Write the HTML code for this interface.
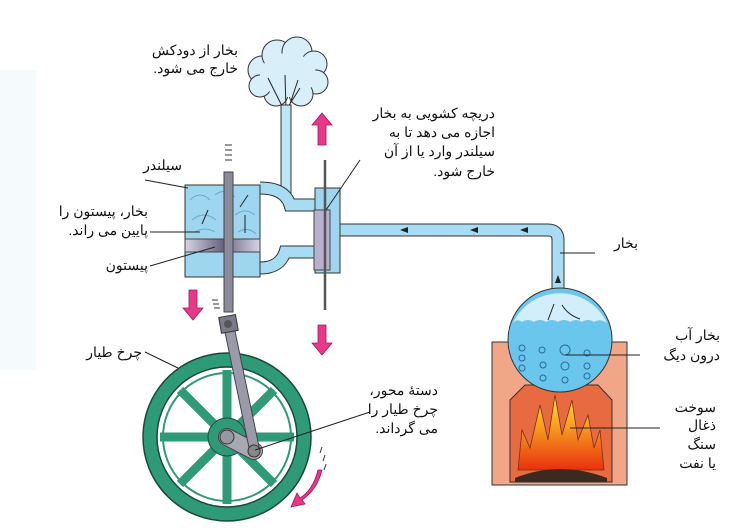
<!DOCTYPE html>
<html><head><meta charset="utf-8"><style>
html,body{margin:0;padding:0;background:#fff;}
svg{display:block}
text{font-family:"Liberation Sans","Noto Sans CJK SC",sans-serif;font-size:14px;fill:#111;}
</style></head><body>
<svg width="731" height="530" viewBox="0 0 731 530" xmlns="http://www.w3.org/2000/svg">
<defs>
<linearGradient id="pist" x1="0" x2="1"><stop offset="0" stop-color="#d8d4e6"/><stop offset="0.5" stop-color="#6a6480"/><stop offset="1" stop-color="#d8d4e6"/></linearGradient>
<linearGradient id="fire" x1="0" y1="1" x2="0" y2="0"><stop offset="0" stop-color="#e83010"/><stop offset="0.6" stop-color="#f8a020"/><stop offset="1" stop-color="#fbe040"/></linearGradient>
</defs>
<rect x="0" y="70" width="36" height="300" fill="#f5fafd"/>

<g fill="#d8eef8" stroke="#333" stroke-width="1">
<circle cx="262" cy="70" r="14"/><circle cx="277" cy="55" r="15"/><circle cx="297" cy="52" r="15"/><circle cx="314" cy="64" r="13"/><circle cx="316" cy="82" r="12"/><circle cx="301" cy="94" r="12"/><circle cx="276" cy="94" r="12"/><circle cx="260" cy="86" r="11"/>
</g>
<ellipse cx="288" cy="75" rx="28" ry="22" fill="#d8eef8"/>
<path d="M284 110 L268 78 M286 110 L285 75 M288 110 L298 80 M286 110 L300 88" stroke="#222" fill="none"/>
<rect x="281" y="105" width="10" height="95" fill="#bfe4f4" stroke="#333"/>

<path d="M340 230 H548 Q558 230 558 240 V292" fill="none" stroke="#333" stroke-width="13"/>
<path d="M340 230 H548 Q558 230 558 240 V292" fill="none" stroke="#a8dcf2" stroke-width="11"/>
<path d="M400 230 l8 -3 v6z M470 230 l8 -3 v6z M520 230 l8 -3 v6z M558 275 l-3 8 h6z" fill="#222"/>

<path d="M260 188 Q285 188 290 205 H318" fill="none" stroke="#333" stroke-width="13"/>
<path d="M260 188 Q285 188 290 205 H318" fill="none" stroke="#a8dcf2" stroke-width="11"/>
<path d="M260 268 Q280 268 285 252 H318" fill="none" stroke="#333" stroke-width="13"/>
<path d="M260 268 Q280 268 285 252 H318" fill="none" stroke="#a8dcf2" stroke-width="11"/>

<rect x="185" y="185" width="75" height="92" fill="#9ed6f0" stroke="#333"/>
<g stroke="#6fa8c8" fill="none" stroke-width="1">
<path d="M190 200 q10 -10 20 0 M215 195 q10 -8 20 2 M192 220 q12 -10 24 0 M235 215 q10 -8 20 0 M195 232 q10 -6 20 0 M238 232 q10 -6 18 2"/>
</g>
<path d="M208 210 l-6 14 M248 195 l-8 12 M245 215 v18" stroke="#222"/>
<rect x="185" y="239" width="75" height="13" fill="url(#pist)" stroke="#444"/>
<rect x="224" y="172" width="9" height="140" fill="#8a8a9a" stroke="#444"/>
<path d="M225 145 h7 M225 150 h7 M225 155 h7 M225 160 h7" stroke="#333"/>

<rect x="315" y="188" width="25" height="85" fill="#9ed6f0" stroke="#333"/>
<rect x="314" y="210" width="16" height="60" fill="#b8b0cc" stroke="#444"/>
<line x1="325" y1="160" x2="325" y2="310" stroke="#555" stroke-width="2.5"/>

<g fill="#e8388a" stroke="#a01858" stroke-width="0.8">
<path d="M318 145 v-20 h-6 l10 -12 l10 12 h-6 v20z"/>
<path d="M189 290 v18 h-6 l10 12 l10 -12 h-6 v-18z"/>
<path d="M318 325 v18 h-6 l10 12 l10 -12 h-6 v-18z"/>
<path d="M318 470 q-5 20 -18 28 l-3 -5 l-6 14 l14 -3 l-3 -4 q15 -10 20 -30z"/>
</g>
<path d="M212 300 h6 M213 304 h6 M214 308 h6" stroke="#333"/>
<path d="M322 447 l-2 6 M325 455 l-2 6 M326 464 l-2 6" stroke="#333"/>

<circle cx="227" cy="437" r="84" fill="#2f9a78" stroke="#1a4a3a" stroke-width="1.5"/>
<circle cx="227" cy="437" r="70" fill="#fff" stroke="#1a4a3a" stroke-width="1.5"/>
<circle cx="227" cy="437" r="64" fill="none" stroke="#2f9a78" stroke-width="2"/>
<g stroke="#2f9a78" stroke-width="9">
<line x1="227" y1="370" x2="227" y2="504"/><line x1="160" y1="437" x2="294" y2="437"/>
<line x1="180" y1="390" x2="274" y2="484"/><line x1="274" y1="390" x2="180" y2="484"/>
</g>
<circle cx="227" cy="437" r="19" fill="#2f9a78" stroke="#1a4a3a"/>
<path d="M227 437 L254 451" stroke="#444" stroke-width="18" stroke-linecap="round"/>
<path d="M227 437 L254 451" stroke="#a8a8b4" stroke-width="16" stroke-linecap="round"/>
<circle cx="227" cy="437" r="7" fill="#9898a4" stroke="#333"/>
<path d="M228 322 L255 452" stroke="#444" stroke-width="11"/>
<path d="M228 322 L255 452" stroke="#9a9aaa" stroke-width="9"/>
<rect x="220" y="316" width="17" height="16" fill="#7a7a8a" stroke="#333" transform="rotate(-10 228 324)"/>
<circle cx="228" cy="324" r="4" fill="#555"/>
<circle cx="254" cy="451" r="6" fill="#888" stroke="#333"/>

<rect x="492" y="342" width="135" height="143" fill="#f2a688" stroke="#333"/>
<path d="M510 400 L525 385 H598 L612 400 V482 H510z" fill="#e86a40" stroke="#333"/>
<path d="M518 470 L522 430 L530 448 L540 405 L548 440 L555 395 L562 435 L572 400 L578 440 L588 415 L594 448 L600 430 L604 470z" fill="url(#fire)" stroke="#7a3010" stroke-width="0.8"/>
<path d="M515 478 q45 -18 92 0 v4 h-92z" fill="#3a2a20"/>
<circle cx="560" cy="340" r="52" fill="#6ac6ec" stroke="#333"/>
<path d="M513 323 A52 52 0 0 1 607 323 Q600 318 594 322 Q588 318 582 322 Q576 318 570 322 Q564 318 558 322 Q552 318 546 322 Q540 318 534 322 Q528 318 522 322 Q517 318 513 323z" fill="#d2eefa"/>
<g fill="none" stroke="#2a6a9a" stroke-width="1">
<circle cx="522" cy="348" r="3"/><circle cx="522" cy="358" r="3"/><circle cx="522" cy="368" r="3"/><circle cx="542" cy="350" r="3"/><circle cx="543" cy="365" r="3"/><circle cx="543" cy="378" r="3"/><circle cx="565" cy="350" r="5"/><circle cx="565" cy="366" r="4"/><circle cx="565" cy="380" r="3"/><circle cx="587" cy="353" r="3"/><circle cx="587" cy="366" r="3"/><circle cx="587" cy="376" r="3"/>
</g>
<path d="M548 320 l6 -16 M562 305 q6 10 18 14" stroke="#222" fill="none"/>

<g stroke="#222" stroke-width="1" fill="none">
<line x1="145" y1="180" x2="188" y2="188"/>
<line x1="150" y1="232" x2="200" y2="232"/>
<line x1="150" y1="266" x2="215" y2="247"/>
<line x1="360" y1="160" x2="326" y2="210"/>
<line x1="595" y1="253" x2="560" y2="253"/>
<line x1="640" y1="355" x2="565" y2="355"/>
<line x1="660" y1="428" x2="570" y2="428"/>
<line x1="145" y1="352" x2="178" y2="368"/>
<line x1="370" y1="412" x2="255" y2="450"/>
</g>

<g text-anchor="start" direction="rtl">
<text x="238" y="55">بخار از دودکش</text>
<text x="238" y="73">خارج می شود.</text>
<text x="495" y="118">دریچه کشویی به بخار</text>
<text x="495" y="137">اجازه می دهد تا به</text>
<text x="495" y="156">سیلندر وارد یا از آن</text>
<text x="495" y="176">خارج شود.</text>
<text x="182" y="170">سیلندر</text>
<text x="148" y="216">بخار، پیستون را</text>
<text x="148" y="235">پایین می راند.</text>
<text x="148" y="270">پیستون</text>
<text x="638" y="248">بخار</text>
<text x="720" y="340">بخار آب</text>
<text x="720" y="360">درون دیگ</text>
<text x="716" y="412">سوخت</text>
<text x="716" y="430">ذغال</text>
<text x="716" y="449">سنگ</text>
<text x="716" y="468">یا نفت</text>
<text x="142" y="357">چرخ طیار</text>
<text x="438" y="395">دستهٔ محور،</text>
<text x="438" y="414">چرخ طیار را</text>
<text x="438" y="433">می گرداند.</text>
</g>
</svg>
</body></html>
